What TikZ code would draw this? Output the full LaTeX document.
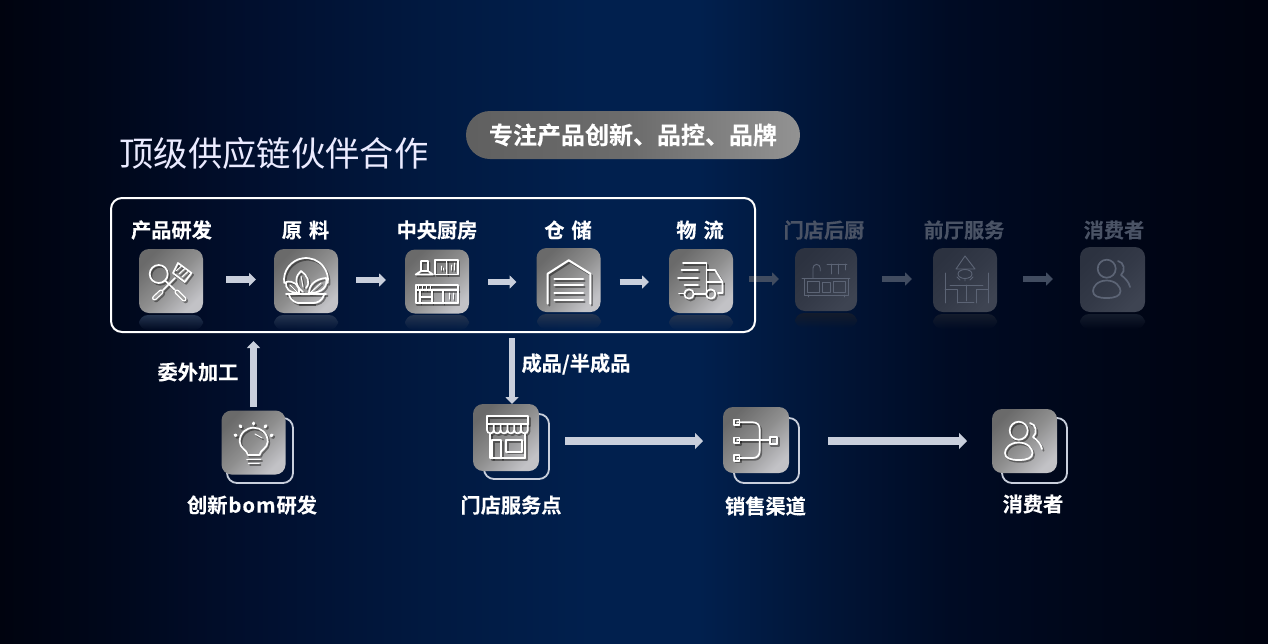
\documentclass[tikz,border=0pt]{standalone}
\usepackage{fontspec}
\setmainfont{Noto Sans CJK SC}
\newfontfamily\cjkbold[FakeBold=0.25]{Noto Sans CJK SC Bold}
\usetikzlibrary{arrows.meta,fadings,calc}
\definecolor{bgE}{HTML}{00030F}
\definecolor{bgA}{HTML}{00071A}
\definecolor{bgB}{HTML}{010F2E}
\definecolor{bgC}{HTML}{011A42}
\definecolor{bgD}{HTML}{01204E}
\definecolor{bgF}{HTML}{011537}
\definecolor{bgG}{HTML}{000B24}
\definecolor{arrowc}{HTML}{C9CFDC}
\definecolor{dimarrow}{HTML}{414C60}
\definecolor{dimtext}{HTML}{4A5365}
\definecolor{dimline}{HTML}{5C6475}
\definecolor{iccol}{HTML}{FFFFFF}
\definecolor{tA}{HTML}{6A6A6A}
\definecolor{tB}{HTML}{8E8E8E}
\definecolor{tC}{HTML}{C2C2C6}
\definecolor{dA}{HTML}{2C3240}
\definecolor{dB}{HTML}{333947}
\definecolor{dC}{HTML}{3E4452}
\pgfdeclarehorizontalshading{bgsh}{100bp}{color(0bp)=(bgE);color(25bp)=(bgE);color(29bp)=(bgA);color(35bp)=(bgB);color(42.5bp)=(bgC);color(48.5bp)=(bgD);color(52.5bp)=(bgD);color(57.5bp)=(bgF);color(62.5bp)=(bgG);color(67.5bp)=(bgA);color(75bp)=(bgE);color(100bp)=(bgE)}
\tikzset{
  tile/.style={rounded corners=10pt,minimum width=64pt,minimum height=64pt,inner sep=0pt,outer sep=0pt,
    top color=tA,bottom color=tC,middle color=tB,shading angle=45},
  dimtile/.style={rounded corners=10pt,minimum width=64pt,minimum height=64pt,inner sep=0pt,outer sep=0pt,
    top color=dA,bottom color=dC,middle color=dB,shading angle=45},
  lab/.style={text=white,font=\cjkbold\fontsize{20.2pt}{22pt}\selectfont,inner sep=0pt},
  dimlab/.style={text=dimtext,font=\cjkbold\fontsize{20.2pt}{22pt}\selectfont,inner sep=0pt},
  flow/.style={draw=arrowc,line width=6.5pt,-{Triangle[length=7pt,width=13pt]}},
  dimflow/.style={flow,draw=dimarrow},
  longflow/.style={draw=arrowc,line width=8pt,-{Triangle[length=8pt,width=16pt]}},
  backline/.style={draw=arrowc,line width=1.8pt,rounded corners=10pt},
  refl/.style={fill=#1,path fading=south,rounded corners=9pt},
  ic/.style={draw=iccol,line width=1.7pt,line cap=round,line join=round},
  icthin/.style={draw=iccol,line width=1pt,line cap=round,line join=round},
}
\newcommand\bodyUtensils{
  \draw[ic] (19.7,25) circle (9);
  \draw[ic] (26,31.5) -- (36,41);
  \draw[ic,line width=5pt] (38,43) -- (45,50);
  \draw[draw=gray!75!white,line width=2.4pt,line cap=round] (38,43) -- (45,50);
  \draw[ic] (39,14) -- (52.5,24) -- (45.7,33) -- (34,24) -- cycle;
  \draw[icthin] (37,22) -- (43,16.5) (40,25) -- (46,19.5) (43,28) -- (49,22.5);
  \draw[ic] (36,29) -- (24,41);
  \draw[ic,line width=5pt] (22,43) -- (15.5,49);
  \draw[draw=gray!75!white,line width=2.4pt,line cap=round] (22,43) -- (15.5,49);
}
\newcommand\bodyBowl{
  \draw[ic] (32,31) ++(172:22) arc (172:368:22);
  \draw[ic] (12,45) -- (52,45);
  \draw[ic] (15,46) .. controls (17,52) and (22,54) .. (25,54) -- (39,54) .. controls (43,54) and (48,52) .. (50,46);
  \draw[ic] (24,54.5) -- (40,54.5);
  \draw[ic] (29,43) .. controls (19,35) and (22,26) .. (27,22) .. controls (33,26) and (37,33) .. (32,39);
  \draw[ic] (25,44) .. controls (15,44) and (11,39) .. (12,33) .. controls (19,31) and (26,36) .. (25,44);
  \draw[ic] (35,44) .. controls (35,36) and (41,30) .. (52,29) .. controls (54,37) and (49,44) .. (35,44);
  \draw[icthin] (16,36) -- (23,43) (47,34) -- (37,43) (27,27) -- (29,38);
}
\newcommand\bodyKitchen{
  \draw[ic] (16,21) -- (16,11) -- (23,11) -- (23,21) (16,21) -- (10.7,24.5) -- (28,24.5) -- (23,21) -- cycle;
  \draw[ic] (30,10) rectangle (53,24.5);
  \draw[icthin] (41.5,10) -- (41.5,24.5) (36,20) -- (36,16) (38.5,20) -- (38.5,18) (46,20) -- (46,15) (49,20) -- (49,13);
  \draw[ic] (10.7,35) rectangle (53,53);
  \draw[ic] (10.7,40) -- (53,40);
  \draw[icthin] (13,35) -- (13,40) (17,35) -- (17,40) (21,35) -- (21,40) (25,35) -- (25,40);
  \draw[ic] (15,40) -- (15,53) (27,40) -- (27,53) (38,40) -- (38,53) (15,47) -- (27,47);
  \draw[icthin] (44,43) -- (44,49) (48,43) -- (48,49);
}
\newcommand\bodyWarehouse{
  \draw[ic,line width=2pt] (10.7,55.7) -- (10.7,25.7) -- (31.7,12.3) -- (53.3,25.7) -- (53.3,55.7);
  \draw[ic,line width=2pt] (17.3,30.7) -- (46,30.7) (17.3,37.3) -- (46,37.3) (17.3,44.7) -- (46,44.7) (17.3,52.3) -- (46,52.3);
}
\newcommand\bodyTruck{
  \draw[ic] (14,14) -- (37.5,14) -- (37.5,45);
  \draw[ic] (37.5,21) -- (46,21) -- (53.5,33) -- (53.5,44) -- (49,44);
  \draw[ic] (37.5,33) -- (53.5,33);
  \draw[ic] (12.5,21) -- (29,21) (9,29) -- (29,29) (15.5,36) -- (29,36);
  \draw[ic] (10,44.5) -- (15,44.5) (25,45) -- (37,45);
  \draw[ic] (20,45) circle (4.7);
  \draw[ic] (41.7,45) circle (4.7);
}
\newcommand\bodyUsers{
  \draw[ic] (26.7,21.7) circle (9);
  \draw[ic] (26.7,33.5) .. controls (17,33.5) and (13,40) .. (13,44) .. controls (13,49) and (18,51) .. (26.7,51) .. controls (35,51) and (40.5,49) .. (40.5,44) .. controls (40.5,40) and (36,33.5) .. (26.7,33.5) -- cycle;
  \draw[ic] (38,14) .. controls (44,15) and (46,24) .. (41,28) .. controls (45,31) and (49,35) .. (50,40);
}
\newcommand\bodyBulb{
  \draw[ic] (26,44) .. controls (25,39) and (17.7,37) .. (17.7,30.7) .. controls (17.7,22) and (24,16.7) .. (31.7,16.7) .. controls (39,16.7) and (45.7,22) .. (45.7,30.7) .. controls (45.7,37) and (38,39) .. (37.5,44) -- cycle;
  \draw[ic] (25,48.5) -- (38.5,48.5) (26.5,52.5) -- (37,52.5);
  \draw[icthin] (33,23) -- (40,27);
  \draw[ic,line width=3pt] (18,14.7) -- (19,15.7) (31.7,12) -- (31.7,13) (43,15.7) -- (44,14.7) (13,24) -- (14.2,24.5) (49,24.7) -- (50.2,24);
}
\newcommand\bodyStore{
  \draw[ic,line width=2pt] (14,20) -- (14,12) -- (55,12) -- (55,20) (14,20) -- (55,20);
  \draw[ic] (14,20) -- (14,26) arc (180:0:3.4) (20.8,26) -- (20.8,20) (20.8,26) arc (180:0:3.4) (27.6,26) -- (27.6,20) (27.6,26) arc (180:0:3.4) (34.4,26) -- (34.4,20) (34.4,26) arc (180:0:3.4) (41.2,26) -- (41.2,20) (41.2,26) arc (180:0:3.4) (48,26) -- (48,20) (48,26) arc (180:0:3.4) (54.8,26) -- (54.8,20);
  \draw[ic,line width=2pt] (17,30) -- (17,54) -- (52,54) -- (52,30);
  \draw[ic,line width=2pt] (19,54) -- (19,36) -- (28,36) -- (28,54);
  \draw[ic,line width=2pt] (33,36) rectangle (49,47.5);
}
\newcommand\bodySales{
  \draw[ic] (14,15.3) -- (30,15.3) .. controls (34,15.3) and (36.7,18) .. (36.7,22) -- (36.7,44) .. controls (36.7,48) and (34,51) .. (30,51) -- (14,51);
  \draw[ic] (14,33.3) -- (46,33.3);
  \draw[ic] (11,12.6) rectangle (16.5,18);
  \draw[ic] (11,30.6) rectangle (16.5,36);
  \draw[ic] (11,48.3) rectangle (16.5,53.7);
  \draw[ic,line width=2pt] (46.5,29.5) rectangle (54,37.2);
}
\newcommand\bodySink{
  \draw[ic,line width=.9pt] (7,30) -- (55,30);
  \draw[ic,line width=.9pt] (9,30) rectangle (53,47);
  \draw[ic,line width=.9pt] (12,33) rectangle (24,44) (27,34) rectangle (35,44) (38,33) rectangle (50,44);
  \draw[ic,line width=.9pt] (18,30) -- (18,20) arc (180:360:3.6) -- (25.2,23);
  \draw[ic,line width=.9pt] (32,16) -- (52,16) (36,16) -- (36,26) (43,16) -- (43,26) (50,16) -- (50,22);
  \draw[ic,line width=.9pt] (13,47) -- (13,49) (49,47) -- (49,49);
}
\newcommand\bodyTable{
  \draw[ic,line width=.9pt] (32,8) -- (23,21) -- (42,21) -- cycle;
  \draw[ic,line width=.9pt] (32,26) ellipse (7 and 4.5);
  \draw[ic,line width=.9pt] (24,29) -- (27,32) (40,29) -- (37,32) (32,31) -- (32,33);
  \draw[ic,line width=.9pt] (17,37) -- (50,37);
  \draw[ic,line width=.9pt] (33,37) -- (33,53) (25,54) -- (41,54);
  \draw[ic,line width=.9pt] (12,25) -- (12,55) (12,41) -- (24,41) -- (24,55);
  \draw[ic,line width=.9pt] (55,25) -- (55,55) (55,41) -- (43,41) -- (43,55);
}
\newcommand\iconS[3]{%
  \begin{scope}[shift={({#1+1.6},{#2+1.8})},opacity=.4]\colorlet{iccol}{black}#3\end{scope}
  \begin{scope}[shift={(#1,#2)}]#3\end{scope}}
\newcommand\iconD[3]{%
  \begin{scope}[shift={(#1,#2)}]\colorlet{iccol}{dimline}#3\end{scope}}
\begin{document}
\begin{tikzpicture}[x=1pt,y=-1pt]
\useasboundingbox (0,0) rectangle (1268,643);
\fill[shading=bgsh,shading angle=0] (0,0) rectangle (1268,643);

\node[text=white!92!blue,font=\fontsize{34.3pt}{38pt}\selectfont,inner sep=0pt,anchor=center] (title) at (274,153.5) {顶级供应链伙伴合作};
\node[rounded corners=24pt,minimum width=334pt,minimum height=48pt,inner sep=0pt,
      left color=gray!75!black,right color=gray!85!white,middle color=gray!85!black,
      text=white,font=\cjkbold\fontsize{24pt}{26pt}\selectfont] (pill) at (633,135) {\raisebox{-2.5pt}{专注产品创新、品控、品牌}};

\foreach \xa/\ya/\w/\c in {139/315/64/24344F,274/315/64/24344F,405/315/64/24344F,537/314/64/24344F,669/315/64/24344F,795/313/62/141C2C,933/314/64/141C2C,1080/314/65/141C2C}{
  \definecolor{rc}{HTML}{\c}
  \fill[refl=rc] (\xa,{\ya+15}) -- (\xa,\ya) -- ({\xa+\w},\ya) -- ({\xa+\w},{\ya+15}) -- cycle;
}

\node[tile] (t1) at (171,281) {};
\node[tile] (t2) at (306,281) {};
\node[tile] (t3) at (437,281.5) {};
\node[tile] (t4) at (568.5,280) {};
\node[tile] (t5) at (701,281) {};
\node[dimtile,minimum width=62pt,minimum height=63pt] (t6) at (826,279.5) {};
\node[dimtile] (t7) at (965,280) {};
\node[dimtile,minimum width=65pt,minimum height=65pt] (t8) at (1112.5,279.5) {};

\iconS{139}{249}\bodyUtensils
\iconS{274}{249}\bodyBowl
\iconS{405}{250}\bodyKitchen
\iconS{537}{248}\bodyWarehouse
\iconS{669}{249}\bodyTruck
\iconD{795}{248}\bodySink
\iconD{933}{248}\bodyTable
\iconD{1080}{247}\bodyUsers

\node[lab] (l1) at (171.5,230) {产品研发};
\node[lab] (l2) at (305.5,230) {原\hspace{7pt}料};
\node[lab] (l3) at (437,230) {中央厨房};
\node[lab] (l4) at (568,230) {仓\hspace{7pt}储};
\node[lab] (l5) at (700,230) {物\hspace{7pt}流};
\node[dimlab] (l6) at (824,230) {门店后厨};
\node[dimlab] (l7) at (964,230) {前厅服务};
\node[dimlab] (l8) at (1114,230) {消费者};

\draw[flow] ($(t1.east)+(23,-1.5)$) -- ($(t1.east -| t2.west)+(-18,-1.5)$);
\draw[flow] ($(t2.east)+(18,-1)$) -- ($(t2.east -| t3.west)+(-19,-1)$);
\draw[flow] ($(t3.east)+(19,.5)$) -- ($(t3.east -| t4.west)+(-20,.5)$);
\draw[flow] ($(t4.east)+(19,2)$) -- ($(t4.east -| t5.west)+(-20,2)$);
\draw[dimflow] ($(t5.east)+(16,-2)$) -- ($(t5.east -| t6.west)+(-16,-2)$);
\draw[dimflow] ($(t6.east)+(25,-.5)$) -- ($(t6.east -| t7.west)+(-21,-.5)$);
\draw[dimflow] ($(t7.east)+(26,-1)$) -- ($(t7.east -| t8.west)+(-27,-1)$);

\node[draw=white,line width=2pt,rounded corners=11pt,minimum width=644pt,minimum height=134pt,inner sep=0pt] (frame) at (433,265) {};

\draw[backline] (275,418) -- (293,418) -- (293,483) -- (227,483) -- (227,460);
\draw[backline] (525,414) -- (549,414) -- (549,479) -- (484,479) -- (484,455);
\draw[backline] (775,418) -- (799,418) -- (799,483) -- (734,483) -- (734,460);
\draw[backline] (1043,418) -- (1067,418) -- (1067,483) -- (1002,483) -- (1002,460);
\node[tile] (b1) at (253.5,442.5) {};
\node[tile,minimum width=66pt,minimum height=67pt] (b2) at (506,437.5) {};
\node[tile,minimum width=66pt,minimum height=66pt] (b3) at (756,440) {};
\node[tile,minimum width=65pt,minimum height=64pt] (b4) at (1024.5,441) {};
\iconS{222}{411}\bodyBulb
\iconS{473}{404}\bodyStore
\iconS{723}{407}\bodySales
\iconS{992}{409}\bodyUsers

\node[lab] (m1) at (252,505) {创新\hspace{1pt}b\hspace{1pt}o\hspace{1pt}m\hspace{1pt}研发};
\node[lab] (m2) at (511,505) {门店服务点};
\node[lab] (m3) at (765.5,506) {销售渠道};
\node[lab] (m4) at (1033,504) {消费者};
\node[lab] (e1) at (198,372) {委外加工};
\node[lab] (e2) at (576,364) {成品/半成品};

\coordinate (upend) at (253.5,341);
\coordinate (downstart) at (512,338);
\draw[flow] ($(b1.north)+(0,-4)$) -- (upend);
\draw[flow] (downstart) -- (downstart |- b2.north);
\draw[longflow] ($(b2.east)+(26,3.5)$) -- ($(b2.east -| b3.west)+(-20,3.5)$);
\draw[longflow] ($(b3.east)+(39,1)$) -- ($(b3.east -| b4.west)+(-25,1)$);
\end{tikzpicture}
\end{document}
